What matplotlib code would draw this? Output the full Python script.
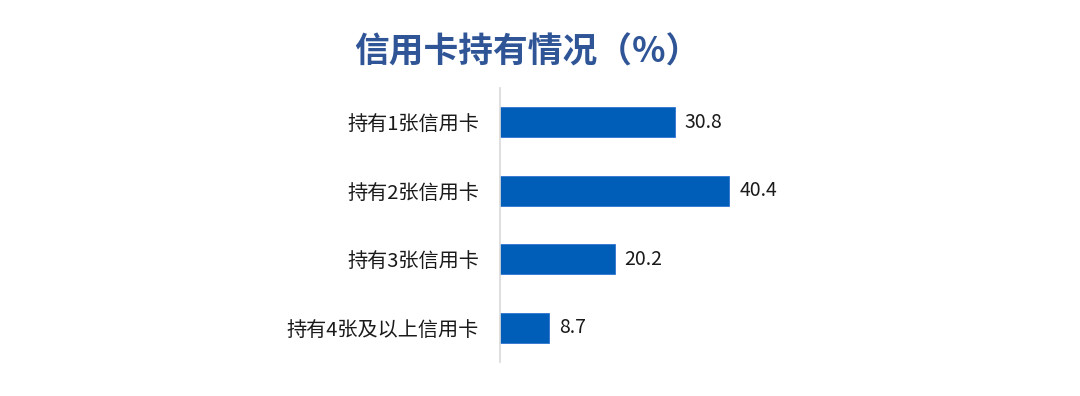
import matplotlib.pyplot as plt

plt.rcParams['font.family'] = ['Noto Sans CJK SC', 'DejaVu Sans']

categories = ['持有1张信用卡', '持有2张信用卡', '持有3张信用卡', '持有4张及以上信用卡']
values = [30.8, 40.4, 20.2, 8.7]

fig = plt.figure(figsize=(10.8, 3.96), dpi=100)
ax = fig.add_axes([500 / 1080, 1 - 362 / 396, 284 / 1080, 274 / 396])

pos = list(range(len(categories)))
ax.barh(pos, values, height=0.44, color='#005EB8', edgecolor='#2E75D0', linewidth=0.6)
ax.set_ylim(len(categories) - 0.5, -0.5)
ax.set_xlim(0, 50)

for p, v in zip(pos, values):
    ax.annotate(f'{v}', (v, p), xytext=(7, 0), textcoords='offset points',
                va='center', ha='left', fontsize=14, color='#1a1a1a')

ax.set_yticks(pos)
ax.set_yticklabels(categories, fontsize=14.5, color='#1a1a1a')
ax.tick_params(axis='y', length=0, pad=15)
ax.set_xticks([])
for s in ['top', 'right', 'bottom']:
    ax.spines[s].set_visible(False)
ax.spines['left'].set_color('#D9D9D9')
ax.spines['left'].set_linewidth(1.2)

fig.text(527 / 1080, 1 - 52 / 396, '信用卡持有情况（%）', ha='center', va='center',
         fontsize=25, fontweight='bold', color='#2F5597')

fig.savefig('out.png', dpi=100, facecolor='white')
